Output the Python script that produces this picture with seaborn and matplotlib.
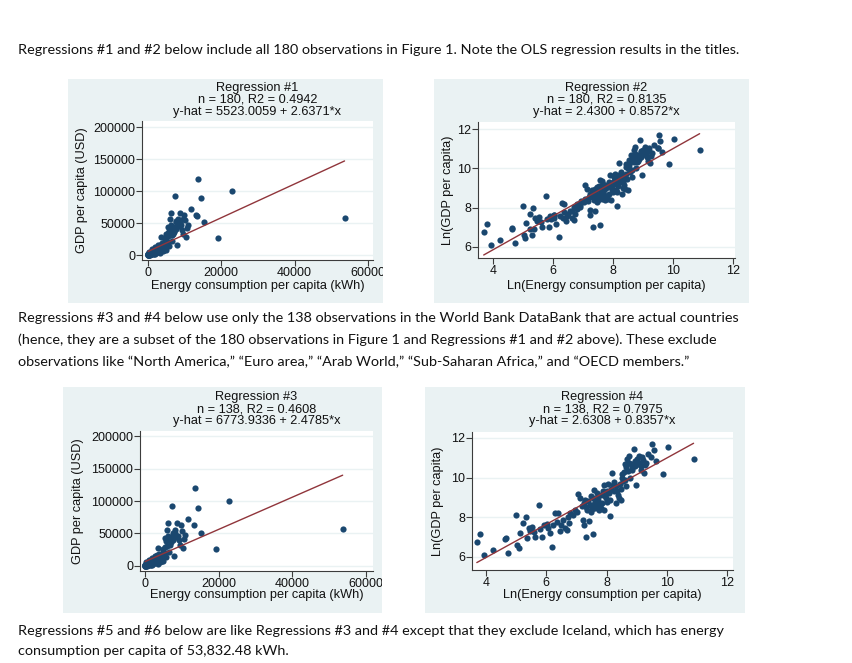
import numpy as np
import matplotlib
matplotlib.use("Agg")
import matplotlib.pyplot as plt
import seaborn as sns
from matplotlib.patches import Rectangle
from matplotlib.transforms import Bbox, TransformedBbox

# ---------------- data ----------------
# Ln(energy consumption per capita) and Ln(GDP per capita): the 138 actual countries
country_ln_energy = [
    3.69, 3.80, 3.94, 4.24, 4.63, 4.65, 4.72, 5.00, 5.04, 5.08, 5.11, 5.24, 5.33, 5.36,
    5.41, 5.47, 5.52, 5.60, 5.63, 5.77, 5.80, 5.86, 5.91, 6.02, 6.11, 6.19, 6.22, 6.30,
    6.38, 6.36, 6.44, 6.47, 6.56, 6.63, 6.69, 6.71, 6.80, 6.89, 7.02, 7.06, 7.13, 7.19,
    7.22, 7.24, 7.30, 7.32, 7.36, 7.38, 7.41, 7.47, 7.47, 7.52, 7.56, 7.58, 7.63, 7.67,
    7.71, 7.74, 7.80, 7.86, 7.91, 7.93, 7.97, 8.02, 8.06, 8.11, 8.13, 8.19, 8.21, 8.24,
    8.30, 8.33, 8.38, 8.41, 8.47, 8.49, 8.52, 8.56, 8.60, 8.63, 8.69, 8.71, 8.74, 8.78,
    8.80, 8.86, 8.91, 8.93, 8.97, 9.00, 9.04, 9.08, 9.13, 9.19, 9.24, 9.30, 9.36, 9.49,
    9.52, 9.58, 9.63, 9.86, 10.04, 10.89,
    7.25, 7.33, 7.44, 7.50, 7.55, 7.61, 7.66, 7.70, 7.76, 7.83, 7.88, 7.95, 8.00,
    8.08, 8.15, 8.26, 8.35, 8.44, 8.50, 8.58, 8.62,
    8.66, 8.75, 8.83, 8.89, 8.95, 9.02, 9.10, 9.16, 9.21, 9.27,
    6.05, 6.75, 6.95,
]
country_ln_gdp = [
    6.76, 7.15, 6.08, 6.37, 6.90, 6.96, 6.22, 8.09, 6.60, 6.47, 7.22, 7.70, 8.00, 6.93,
    7.46, 7.30, 7.53, 7.27, 7.00, 8.60, 7.40, 7.00, 7.60, 7.65, 7.19, 6.50, 7.60, 8.24,
    8.20, 7.78, 7.32, 7.60, 7.85, 7.46, 7.35, 8.02, 8.20, 8.12, 8.29, 9.17, 8.97, 8.55,
    7.87, 7.61, 8.88, 7.01, 8.38, 8.80, 7.83, 9.06, 8.29, 8.63, 7.14, 9.40, 8.46, 9.22,
    8.89, 8.38, 9.14, 8.72, 9.65, 8.38, 8.97, 9.31, 9.70, 8.89, 8.07, 10.25, 9.65, 9.31,
    8.72, 9.56, 9.14, 8.97, 9.45, 8.89, 10.17, 9.82, 10.67, 9.57, 10.93, 10.33, 11.10, 10.00,
    10.67, 10.50, 11.44, 10.84, 9.65, 10.93, 10.71, 11.10, 10.59, 11.05, 10.25, 10.76, 11.18, 11.05,
    11.69, 11.40, 10.84, 10.20, 11.52, 10.96,
    8.70, 8.52, 8.60, 8.40, 8.95, 8.75, 8.55, 9.05, 8.62, 8.45, 9.30, 9.05, 8.78,
    9.20, 9.45, 9.80, 9.30, 9.70, 10.00, 10.30, 9.90,
    10.55, 10.75, 10.40, 10.70, 10.60, 10.85, 10.75, 10.40, 10.90, 10.65,
    7.45, 7.70, 8.35,
]
# the 42 aggregate observations (regions, income groups, ...) only in regressions #1 and #2
aggregate_ln_energy = [
    7.90, 9.02, 8.88, 8.72, 9.50, 8.02, 8.42, 7.52, 8.32, 6.02, 5.92, 5.22, 5.30, 6.62,
    7.32, 7.92, 8.12, 8.55, 8.45, 7.78, 7.60, 7.70, 6.90, 6.50, 8.05, 8.62, 8.80, 9.08,
    8.95, 7.45, 7.08, 7.18, 6.80, 7.98, 8.18, 8.28, 8.36, 7.40, 8.52, 9.15, 6.35, 7.65,
]
aggregate_ln_gdp = [
    9.28, 10.72, 10.55, 10.62, 11.02, 9.35, 10.05, 9.12, 9.02, 7.62, 7.42, 6.92, 6.62, 7.82,
    8.52, 9.12, 8.82, 9.95, 10.20, 9.00, 8.80, 8.65, 8.05, 7.70, 9.55, 10.45, 10.35, 10.82,
    10.88, 8.72, 8.42, 8.32, 7.95, 8.95, 9.10, 9.40, 9.62, 8.95, 10.42, 10.95, 7.50, 9.35,
]

# OLS results printed in the titles
reg_titles = ["Regression #1", "Regression #2", "Regression #3", "Regression #4"]
reg_n = [180, 180, 138, 138]
reg_r2 = ["0.4942", "0.8135", "0.4608", "0.7975"]
reg_intercept = [5523.0059, 2.4300, 6773.9336, 2.6308]
reg_slope = [2.6371, 0.8572, 2.4785, 0.8357]
reg_intercept_txt = ["5523.0059", "2.4300", "6773.9336", "2.6308"]
reg_slope_txt = ["2.6371", "0.8572", "2.4785", "0.8357"]

level_xticks = [0, 20000, 40000, 60000]
level_yticks = [0, 50000, 100000, 150000, 200000]
log_xticks = [4, 6, 8, 10, 12]
log_yticks = [6, 8, 10, 12]

xlabel_level = "Energy consumption per capita (kWh)"
ylabel_level = "GDP per capita (USD)"
xlabel_log = "Ln(Energy consumption per capita)"
ylabel_log = "Ln(GDP per capita)"

para1 = ["Regressions #1 and #2 below include all 180 observations in Figure 1. Note the OLS regression results in the titles."]
para2 = ["Regressions #3 and #4 below use only the 138 observations in the World Bank DataBank that are actual countries",
         "(hence, they are a subset of the 180 observations in Figure 1 and Regressions #1 and #2 above). These exclude",
         "observations like \u201cNorth America,\u201d \u201cEuro area,\u201d \u201cArab World,\u201d \u201cSub-Saharan Africa,\u201d and \u201cOECD members.\u201d"]
para3 = ["Regressions #5 and #6 below are like Regressions #3 and #4 except that they exclude Iceland, which has energy",
         "consumption per capita of 53,832.48 kWh."]

# ---------------- styling ----------------
sns.set_theme(style="white")
plt.rcParams["font.family"] = ["Liberation Sans", "DejaVu Sans"]

NAVY = "#1a476f"
MAROON = "#90353b"
PANEL = "#eaf2f3"
GRID = "#eaf2f3"
AXC = "#3c3c3c"
FS = 9.0

W, H = 853, 663
fig = plt.figure(figsize=(W / 100, H / 100), dpi=100)
fig.patch.set_facecolor("white")


def fx(x):
    return x / W


def fy(y):
    return 1 - y / H


def rect(x0, y0, x1, y1):
    return [fx(x0), fy(y1), fx(x1) - fx(x0), fy(y0) - fy(y1)]


panels = [(68, 79, 383, 303), (434, 79, 749, 303), (63, 387, 382, 613), (425, 387, 745, 613)]
axes_px = [(142, 121, 373, 260), (478, 122, 735, 258), (140, 431, 373, 571), (472, 432, 733, 570)]
xlims = [(-1640, 61400), (3.50, 12.07), (-1357, 61870), (3.53, 12.20)]
ylims = [(-7800, 209400), (5.44, 12.36), (-7700, 207700), (5.34, 12.30)]
title_y = [(88, 100, 112), (88, 100, 112), (397, 409, 421)]
title_y.append(title_y[2])
xlabel_y = [286, 286, 595, 595]
ylabel_x = [82, 448, 78, 438]

all_ln_e = np.array(country_ln_energy + aggregate_ln_energy)
all_ln_g = np.array(country_ln_gdp + aggregate_ln_gdp)
cty_ln_e = np.array(country_ln_energy)
cty_ln_g = np.array(country_ln_gdp)

datasets = [
    (np.exp(all_ln_e), np.exp(all_ln_g)),
    (all_ln_e, all_ln_g),
    (np.exp(cty_ln_e), np.exp(cty_ln_g)),
    (cty_ln_e, cty_ln_g),
]

for i in range(4):
    px0, py0, px1, py1 = panels[i]
    pr = Rectangle((fx(px0), fy(py1)), fx(px1) - fx(px0), fy(py0) - fy(py1),
                   transform=fig.transFigure, facecolor=PANEL, edgecolor="none", zorder=0)
    fig.patches.append(pr)

    ax = fig.add_axes(rect(*axes_px[i]))
    ax.set_facecolor("white")
    ax.set_zorder(1)
    xd, yd = datasets[i]
    is_log = i in (1, 3)

    for yt in (log_yticks if is_log else level_yticks):
        ax.axhline(yt, color=GRID, lw=1.0, zorder=0.5)

    sns.scatterplot(x=xd, y=yd, ax=ax, color=NAVY, s=20, linewidth=0, zorder=3)
    xs = np.array([xd.min(), xd.max()])
    sns.lineplot(x=xs, y=reg_intercept[i] + reg_slope[i] * xs, ax=ax, color=MAROON, lw=1.0, zorder=4)

    ax.set_xlim(*xlims[i])
    ax.set_ylim(*ylims[i])
    xt = log_xticks if is_log else level_xticks
    yt_ = log_yticks if is_log else level_yticks
    ax.set_xticks(xt)
    ax.set_xticklabels([str(v) for v in xt])
    ax.set_yticks(yt_)
    ax.set_yticklabels([str(v) for v in yt_])
    ax.set_xlabel("")
    ax.set_ylabel("")

    for s in ("top", "right"):
        ax.spines[s].set_visible(False)
    for s in ("left", "bottom"):
        ax.spines[s].set_visible(True)
        ax.spines[s].set_color(AXC)
        ax.spines[s].set_linewidth(0.8)
    ax.tick_params(axis="both", which="major", direction="out", length=4, width=0.8,
                   color=AXC, labelsize=FS, labelcolor="#111111", pad=1.0,
                   bottom=True, left=True)

    # clip tick labels to the grey panel (the reference cuts off "60000")
    clipbb = TransformedBbox(Bbox([[fx(px0), fy(py1)], [fx(px1), fy(py0)]]), fig.transFigure)
    for tk in ax.xaxis.get_major_ticks():
        tk.label1.set_clip_on(True)
        tk.label1.set_clip_box(clipbb)

    ax0, ay0, ax1, ay1 = axes_px[i]
    cx = (ax0 + ax1) / 2
    ty = title_y[i]
    fig.text(fx(cx), fy(ty[0]), reg_titles[i], ha="center", va="center", fontsize=FS + 0.2, color="#111111")
    fig.text(fx(cx), fy(ty[1]), f"n = {reg_n[i]}, R2 = {reg_r2[i]}", ha="center", va="center",
             fontsize=FS + 0.2, color="#111111")
    fig.text(fx(cx), fy(ty[2]), f"y-hat = {reg_intercept_txt[i]} + {reg_slope_txt[i]}*x",
             ha="center", va="center", fontsize=FS + 0.2, color="#111111")
    fig.text(fx(cx), fy(xlabel_y[i]), xlabel_log if is_log else xlabel_level,
             ha="center", va="center", fontsize=FS + 0.2, color="#111111")
    fig.text(fx(ylabel_x[i]), fy((ay0 + ay1) / 2), ylabel_log if is_log else ylabel_level,
             ha="center", va="center", rotation=90, fontsize=FS + 0.2, color="#111111")

# ---------------- body text ----------------
BODY_FONT = ["Lato", "DejaVu Sans"]
body_texts = []
for lines, ys in ((para1, [50]), (para2, [318, 340, 362]), (para3, [631, 651])):
    for line, y in zip(lines, ys):
        t = fig.text(fx(18), fy(y), line, ha="left", va="center", fontsize=10.5,
                     family=BODY_FONT, color="#111111")
        body_texts.append(t)

fig.canvas.draw()
renderer = fig.canvas.get_renderer()
ref = body_texts[0]
w = ref.get_window_extent(renderer).width
scale = (748 - 18) / w
for t in body_texts:
    t.set_fontsize(10.5 * scale)

fig.savefig("out.png", dpi=100, facecolor="white")
